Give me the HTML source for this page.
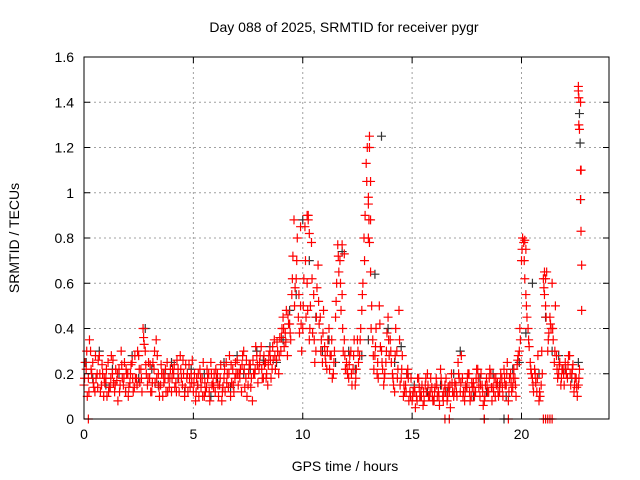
<!DOCTYPE html>
<html><head><meta charset="utf-8"><style>
html,body{margin:0;padding:0;background:#fff}
svg{display:block;font-family:"Liberation Sans",sans-serif}
</style></head><body>
<svg id="c" width="640" height="480">
<text x="344" y="32" text-anchor="middle" font-size="14">Day 088 of 2025, SRMTID for receiver pygr</text>
<text x="345" y="471" text-anchor="middle" font-size="14">GPS time / hours</text>
<text transform="translate(19,238) rotate(-90)" text-anchor="middle" font-size="14">SRMTID / TECUs</text>
<g id="grid"></g><g id="marks"></g><g id="axes"></g>
</svg>
<script>
const xTicks=[0,5,10,15,20];
const yTicks=[0,0.2,0.4,0.6,0.8,1,1.2,1.4,1.6];
const yTickLabels=["0","0.2","0.4","0.6","0.8","1","1.2","1.4","1.6"];
const redA=[0.15,0.22,0.18,0.30,0.25,0.12,0.20,0.28,0.15,0.10,
0.18,0.25,0.14,0.20,0.12,0.17,0.22,0.30,0.15,0.12,
0.20,0.16,0.25,0.14,0.18,0.28,0.22,0.40,0.30,0.15,
0.18,0.12,0.22,0.35,0.20,0.15,0.10,0.18,0.25,0.14,
0.12,0.20,0.16,0.22,0.28,0.15,0.10,0.18,0.24,0.20,
0.12,0.08,0.15,0.22,0.18,0.10,0.14,0.20,0.25,0.16,
0.12,0.20,0.15,0.08,0.18,0.25,0.14,0.10,0.22,0.18,
0.26,0.20,0.12,0.30,0.18,0.15,0.24,0.08,0.20,0.28,
0.22,0.32,0.18,0.25,0.15,0.30,0.22,0.35,0.26,0.20,
0.30,0.45,0.38,0.28,0.42,0.55,0.88,0.62,0.45,0.50,
0.40,0.85,0.60,0.35,0.78,0.55,0.30,0.68,0.45,0.25,
0.32,0.22,0.40,0.28,0.20,0.45,0.77,0.70,0.55,0.35,
0.25,0.18,0.30,0.22,0.15,0.35,0.28,0.48,0.80,1.13,
0.98,0.65,0.35,0.28,0.20,0.50,0.30,0.15,0.25,0.45,
0.35,0.20,0.12,0.30,0.48,0.18,0.10,0.15,0.22,0.12,
0.08,0.14,0.10,0.18,0.12,0.06,0.15,0.20,0.10,0.14,
0.08,0.18,0.12,0.22,0.10,0.15,0.08,0.12,0.20,0.10,
0.15,0.25,0.12,0.18,0.08,0.14,0.20,0.10,0.16,0.12,
0.22,0.10,0.15,0.08,0.18,0.12,0.20,0.14,0.10,0.16,
0.12,0.18,0.22,0.15,0.08,0.20,0.14,0.18,0.24,0.30,
0.70,0.78,0.55,0.40,0.25,0.18,0.22,0.12,0.08,0.15,
0.62,0.50,0.30,0.45,0.60,0.25,0.28,0.20,0.15,0.22,
0.25,0.18,0.28,0.20,0.12,0.18,0.15,1.40];
const redB=[0.25,0.10,0.35,0.20,0.14,0.18,0.26,0.12,0.20,0.16,
0.10,0.14,0.28,0.16,0.22,0.08,0.15,0.18,0.25,0.20,
0.14,0.24,0.12,0.18,0.30,0.16,0.12,0.33,0.20,0.25,
0.12,0.25,0.16,0.28,0.10,0.20,0.16,0.12,0.18,0.22,
0.22,0.14,0.26,0.12,0.18,0.20,0.24,0.12,0.14,0.26,
0.20,0.18,0.10,0.14,0.25,0.12,0.18,0.08,0.15,0.20,
0.18,0.10,0.24,0.14,0.12,0.20,0.28,0.16,0.12,0.20,
0.15,0.22,0.28,0.14,0.10,0.24,0.18,0.20,0.32,0.16,
0.28,0.18,0.24,0.20,0.28,0.18,0.26,0.22,0.30,0.36,
0.40,0.32,0.48,0.42,0.35,0.72,0.58,0.80,0.38,0.30,
0.62,0.45,0.90,0.50,0.38,0.25,0.58,0.42,0.35,0.48,
0.25,0.35,0.28,0.18,0.30,0.60,0.65,0.48,0.30,0.22,
0.20,0.28,0.15,0.35,0.22,0.25,0.40,0.60,0.90,1.20,
0.78,0.50,0.22,0.40,0.18,0.32,0.22,0.20,0.38,0.28,
0.25,0.15,0.40,0.22,0.15,0.28,0.12,0.20,0.08,0.18,
0.12,0.05,0.18,0.10,0.15,0.08,0.12,0.10,0.18,0.08,
0.14,0.10,0.06,0.15,0.12,0.18,0.14,0.05,0.12,0.16,
0.10,0.18,0.28,0.12,0.15,0.20,0.08,0.14,0.10,0.22,
0.14,0.20,0.06,0.15,0.12,0.22,0.08,0.18,0.15,0.10,
0.20,0.10,0.15,0.25,0.18,0.12,0.22,0.10,0.28,0.35,
0.80,0.62,0.45,0.32,0.20,0.12,0.16,0.28,0.10,0.20,
0.55,0.65,0.38,0.40,0.35,0.50,0.18,0.25,0.22,0.15,
0.20,0.28,0.15,0.24,0.18,0.10,0.22,0.68];
const redC=[0.18,0.30,0.12,0.22,0.16,0.28,0.14,0.20,0.24,0.18,
0.22,0.12,0.18,0.26,0.15,0.20,0.12,0.24,0.18,0.22,
0.10,0.20,0.18,0.28,0.15,0.22,0.18,0.36,0.24,0.18,
0.24,0.16,0.30,0.18,0.14,0.24,0.20,0.22,0.12,0.18,
0.18,0.24,0.12,0.18,0.22,0.26,0.14,0.20,0.18,0.16,
0.16,0.12,0.20,0.18,0.10,0.16,0.22,0.12,0.20,0.14,
0.22,0.15,0.18,0.12,0.22,0.16,0.20,0.24,0.15,0.25,
0.20,0.18,0.24,0.22,0.26,0.20,0.14,0.26,0.22,0.24,
0.25,0.22,0.28,0.18,0.24,0.26,0.32,0.28,0.34,0.28,
0.36,0.40,0.34,0.46,0.38,0.62,0.50,0.70,0.55,0.42,
0.50,0.70,0.48,0.40,0.62,0.35,0.45,0.52,0.30,0.38,
0.28,0.30,0.22,0.35,0.25,0.52,0.72,0.60,0.40,0.28,
0.22,0.24,0.20,0.28,0.18,0.30,0.35,0.55,0.70,1.05,
0.88,0.40,0.28,0.32,0.25,0.42,0.25,0.18,0.30,0.35,
0.30,0.18,0.28,0.18,0.35,0.22,0.15,0.12,0.18,0.10,
0.10,0.12,0.08,0.14,0.10,0.12,0.18,0.15,0.12,0.10,
0.12,0.15,0.10,0.18,0.08,0.12,0.10,0.15,0.16,0.12,
0.12,0.20,0.16,0.10,0.12,0.18,0.12,0.16,0.14,0.18,
0.18,0.15,0.12,0.10,0.15,0.18,0.14,0.12,0.18,0.12,
0.16,0.14,0.18,0.20,0.12,0.16,0.18,0.15,0.26,0.40,
0.75,0.70,0.50,0.35,0.22,0.15,0.20,0.18,0.12,0.30,
0.58,0.45,0.35,0.42,0.40,0.30,0.22,0.24,0.18,0.20,
0.22,0.24,0.20,0.22,0.15,0.14,0.18,1.10];
const redExtraX=[22.6,22.6,22.62,22.62,22.65,22.7,22.7,22.72,22.75,13.05,13.05,13.1,13.0,13.1,13.0,10.2,10.25,10.3,9.9,11.8,11.9,20.15,20.2,21.05,21.1,0.2,16.5,16.7,18.3,19.4,21.0,21.1,21.2,21.3,21.4];
const redExtraY=[1.47,1.45,1.42,1.30,1.28,1.10,0.97,0.83,0.48,1.25,1.20,1.05,0.95,0.88,0.80,0.90,0.88,0.82,0.85,0.77,0.73,0.79,0.75,0.65,0.62,0,0,0,0,0,0,0,0,0,0];
const black=[0.25,0.18,0.30,0.15,0.22,0.20,0.12,0.28,0.18,0.40,
0.22,0.15,0.20,0.25,0.18,0.12,0.22,0.15,0.20,0.10,
0.18,0.25,0.14,0.28,0.20,0.22,0.30,0.26,0.32,0.25,
0.35,0.48,0.55,0.88,0.70,0.45,0.30,0.35,0.25,0.74,
0.30,0.22,0.28,0.35,0.64,1.25,0.40,0.25,0.32,0.20,
0.15,0.10,0.12,0.08,0.15,0.12,0.20,0.30,0.14,0.10,
0.18,0.12,0.20,0.15,0.10,0.22,0.25,0.38,0.60,0.20,
0.45,0.30,0.28,0.22,0.18,0.25];
const blackExtraX=[22.65,22.68,22.7,18.3,19.2];
const blackExtraY=[1.35,1.22,0.97,0,0];

const L=84,R=609,T=57,B=419,XMAX=24,YMAX=1.6;
const sx=v=>L+(R-L)*v/XMAX, sy=v=>B-(B-T)*v/YMAX;
const NS="http://www.w3.org/2000/svg";
function mk(tag,attrs,parent){const e=document.createElementNS(NS,tag);for(const k in attrs)e.setAttribute(k,attrs[k]);parent.appendChild(e);return e;}
const grid=document.getElementById('grid'),marks=document.getElementById('marks'),axes=document.getElementById('axes');
xTicks.forEach(t=>{
 if(t>0){const g=mk('line',{x1:sx(t),x2:sx(t),y1:T,y2:B,stroke:'#a0a0a0','stroke-dasharray':'2,3'},grid);
 
 }
 mk('line',{x1:sx(t),x2:sx(t),y1:B,y2:B-6,stroke:'#000'},axes);
 mk('line',{x1:sx(t),x2:sx(t),y1:T,y2:T+6,stroke:'#000'},axes);
 const tx=mk('text',{x:sx(t),y:B+20,'text-anchor':'middle','font-size':14},axes);tx.textContent=t;
 
 
});
yTicks.forEach((t,i)=>{
 if(t>0&&t<YMAX){const g=mk('line',{x1:L,x2:R,y1:sy(t),y2:sy(t),stroke:'#a0a0a0','stroke-dasharray':'2,3'},grid);
 
 }
 mk('line',{x1:L,x2:L+6,y1:sy(t),y2:sy(t),stroke:'#000'},axes);
 mk('line',{x1:R,x2:R-6,y1:sy(t),y2:sy(t),stroke:'#000'},axes);
 const tx=mk('text',{x:L-10,y:sy(t)+5,'text-anchor':'end','font-size':14},axes);tx.textContent=yTickLabels[i];
 
 
});
const fr=mk('rect',{x:L,y:T,width:R-L,height:B-T,fill:'none',stroke:'#000'},axes);


function plus(x,y,c,name){
 const p=mk('path',{d:`M${sx(x)-4.5},${sy(y)}h9M${sx(x)},${sy(y)-4.5}v9`,stroke:c,'stroke-width':1.2,fill:'none'},marks);
 
 
}
black.forEach((v,i)=>plus(i*0.3+0.1,v,'#333','black-point'));
blackExtraX.forEach((x,i)=>plus(x,blackExtraY[i],'#333','black-point'));
redA.forEach((v,i)=>plus(i*0.1,v,'#ff0000','red-point'));
redB.forEach((v,i)=>plus(i*0.1+0.05,v,'#ff0000','red-point'));
redC.forEach((v,i)=>plus(i*0.1+0.025,v,'#ff0000','red-point'));
redExtraX.forEach((x,i)=>plus(x,redExtraY[i],'#ff0000','red-point'));
</script>
</body></html>
